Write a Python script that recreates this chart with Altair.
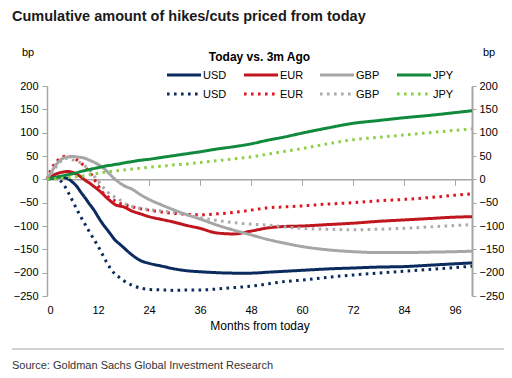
import altair as alt
import pandas as pd

# ---------------- data ----------------
months = [0, 1, 2, 3, 4, 5, 6, 7, 8, 9, 10, 11, 12, 13, 14, 15, 16, 17, 18,
          20, 22, 24, 27, 30, 33, 36, 40, 44, 48, 52, 56, 60, 66, 72, 78, 84, 90, 96, 100]

usd_today = [0, 2, 4, 5, 4, 1, -6, -15, -28, -40, -53, -65, -80, -94, -106, -118, -130, -138, -146,
             -162, -174, -180, -186, -192, -196, -198, -200, -201, -201, -199, -197, -195, -192, -190, -188, -187, -184, -181, -179]
usd_3m = [0, 2, 2, -2, -12, -28, -46, -64, -81, -97, -113, -128, -143, -160, -177, -192, -203, -210, -217,
          -227, -233, -236, -237, -238, -237, -237, -235, -232, -229, -224, -219, -216, -210, -205, -201, -197, -193, -189, -186]
eur_today = [0, 6, 11, 14, 16, 17, 15, 11, 5, -2, -8, -15, -22, -30, -39, -47, -54, -57, -59,
             -68, -74, -80, -86, -92, -99, -105, -115, -117, -111, -104, -101, -100, -97, -94, -90, -87, -84, -81, -80]
eur_3m = [0, 22, 35, 45, 49, 50, 47, 42, 35, 26, 16, 2, -13, -27, -35, -41, -46, -51, -54,
          -59, -63, -66, -70, -73, -75, -76, -74, -71, -66, -61, -59, -57, -53, -50, -46, -43, -39, -34, -31]
gbp_today = [0, 15, 30, 40, 46, 48, 49, 48, 47, 45, 41, 37, 32, 26, 18, 9, 0, -7, -13,
             -21, -33, -43, -55, -66, -76, -85, -98, -109, -119, -129, -137, -144, -151, -155, -157, -157, -156, -155, -154]
gbp_3m = [0, 12, 25, 36, 44, 45, 42, 39, 35, 28, 20, 8, -3, -15, -25, -33, -38, -43, -50,
          -58, -62, -65, -68, -71, -76, -82, -88, -93, -96, -98, -102, -105, -107, -108, -107, -105, -102, -99, -97]
jpy_today = [0, 2, 4, 6, 8, 10, 12, 14, 17, 19, 21, 23, 25, 27, 29, 30, 32, 33, 35,
             38, 41, 43, 47, 51, 55, 59, 65, 70, 76, 84, 91, 99, 110, 120, 126, 132, 137, 143, 147]
jpy_3m = [0, 0.5, 1, 2, 3, 4, 5, 6, 7, 8, 10, 11, 13, 14, 16, 17, 18, 19, 20,
          22, 24, 26, 28, 31, 33, 36, 40, 44, 48, 54, 60, 66, 76, 85, 90, 95, 100, 105, 108]

currencies = ["USD", "EUR", "GBP", "JPY"]
series_today = [usd_today, eur_today, gbp_today, jpy_today]
series_3m = [usd_3m, eur_3m, gbp_3m, jpy_3m]

x_ticks = [0, 12, 24, 36, 48, 60, 72, 84, 96]
y_ticks = [-250, -200, -150, -100, -50, 0, 50, 100, 150, 200]

# ---------------- styles ----------------
col_today = ["#0B2B5E", "#C0171F", "#A6A6A6", "#118A3E"]
col_3m = ["#0B2B5E", "#E0141E", "#ABABAB", "#8DD048"]
W, H = 425, 210
YMIN, YMAX = -250, 200
FONT = "Liberation Sans"

rows = []
keys, colors = [], []
for c, st, s3 in zip(currencies, series_today, series_3m):
    for m, v in zip(months, st):
        rows.append({"month": m, "value": v, "key": c + "_today", "kind": "today", "order": 1})
    for m, v in zip(months, s3):
        rows.append({"month": m, "value": v, "key": c + "_3m", "kind": "3m", "order": 0})
for c, ct in zip(currencies, col_3m):
    keys.append(c + "_3m"); colors.append(ct)
for c, ct in zip(currencies, col_today):
    keys.append(c + "_today"); colors.append(ct)
df = pd.DataFrame(rows)

xscale = alt.Scale(domain=[0, 100], nice=False, zero=False)
yscale = alt.Scale(domain=[YMIN, YMAX], nice=False, zero=False)

base = alt.Chart(df)

lines = base.mark_line(strokeWidth=3, interpolate="monotone").encode(
    x=alt.X("month:Q", scale=xscale,
            axis=alt.Axis(orient="bottom", values=x_ticks, title="Months from today", grid=False,
                          domain=False, ticks=False, labelFont=FONT, labelFontSize=11, labelColor="#000",
                          labelPadding=8, titleFont=FONT, titleFontSize=12, titleFontWeight="normal",
                          titleColor="#000", titlePadding=5)),
    y=alt.Y("value:Q", scale=yscale,
            axis=alt.Axis(orient="left", values=y_ticks, title=None, grid=False, domainColor="#A6A6A6",
                          domainWidth=1.5, tickColor="#A6A6A6", tickSize=5, labelPadding=4,
                          labelFont=FONT, labelFontSize=11, labelColor="#000")),
    color=alt.Color("key:N", scale=alt.Scale(domain=keys, range=colors), legend=None),
    strokeDash=alt.StrokeDash("kind:N", scale=alt.Scale(domain=["today", "3m"], range=[[1, 0], [2.6, 4.4]]),
                              legend=None),
    order=alt.Order("order:Q"),
)

axes2 = base.mark_line(opacity=0).encode(
    x=alt.X("month:Q", scale=xscale,
            axis=alt.Axis(orient="bottom", values=x_ticks, title=None, labels=False, grid=False,
                          domainColor="#A6A6A6", domainWidth=1.5, tickColor="#A6A6A6", tickSize=6,
                          offset=-(H * (0 - YMIN) / (YMAX - YMIN)))),
    y=alt.Y("value:Q", scale=yscale,
            axis=alt.Axis(orient="right", values=y_ticks, title=None, grid=False, domainColor="#A6A6A6",
                          domainWidth=2, tickColor="#A6A6A6", tickSize=4, labelPadding=3,
                          labelFont=FONT, labelFontSize=11, labelColor="#000")),
    detail="key:N",
)

one = pd.DataFrame({"a": [0]})


def text(t, x, y, size=11, weight="normal", align="left", font=FONT, color="#000"):
    return alt.Chart(one).mark_text(text=t, align=align, baseline="alphabetic", fontSize=size,
                                    fontWeight=weight, font=font, color=color).encode(
        x=alt.value(x), y=alt.value(y))


layers = [axes2, lines]
layers.append(text("Cumulative amount of hikes/cuts priced from today", -35, -65, size=14.5,
                   weight="bold", color="#1a1a1a"))
layers.append(text("bp", -25, -30))
layers.append(text("bp", 436, -30))
layers.append(text("Today vs. 3m Ago", 212.5, -25, size=12, weight="bold", align="center"))

leg_x = [120, 197, 273, 350]
for i, c in enumerate(currencies):
    for ry, col, dash in [(-11, col_today[i], [1, 0]), (8, col_3m[i], [2.6, 4.4])]:
        layers.append(alt.Chart(one).mark_rule(strokeWidth=3, strokeDash=dash, color=col).encode(
            x=alt.value(leg_x[i]), x2=alt.value(leg_x[i] + 34), y=alt.value(ry)))
        layers.append(text(c, leg_x[i] + 36, ry + 4))

layers.append(alt.Chart(one).mark_rule(strokeWidth=1, color="#A6A6A6").encode(
    x=alt.value(-35), x2=alt.value(458), y=alt.value(263)))
layers.append(text("Source: Goldman Sachs Global Investment Research", -35, 283, size=11,
                   color="#333"))

chart = alt.layer(*layers).resolve_axis(x="independent", y="independent").properties(
    width=W, height=H,
    autosize=alt.AutoSizeParams(type="none"),
    padding={"left": 39, "top": 78, "right": 32, "bottom": 74},
).configure_view(stroke=None)

chart.save("out.html", embed_options={"renderer": "svg", "actions": False})
